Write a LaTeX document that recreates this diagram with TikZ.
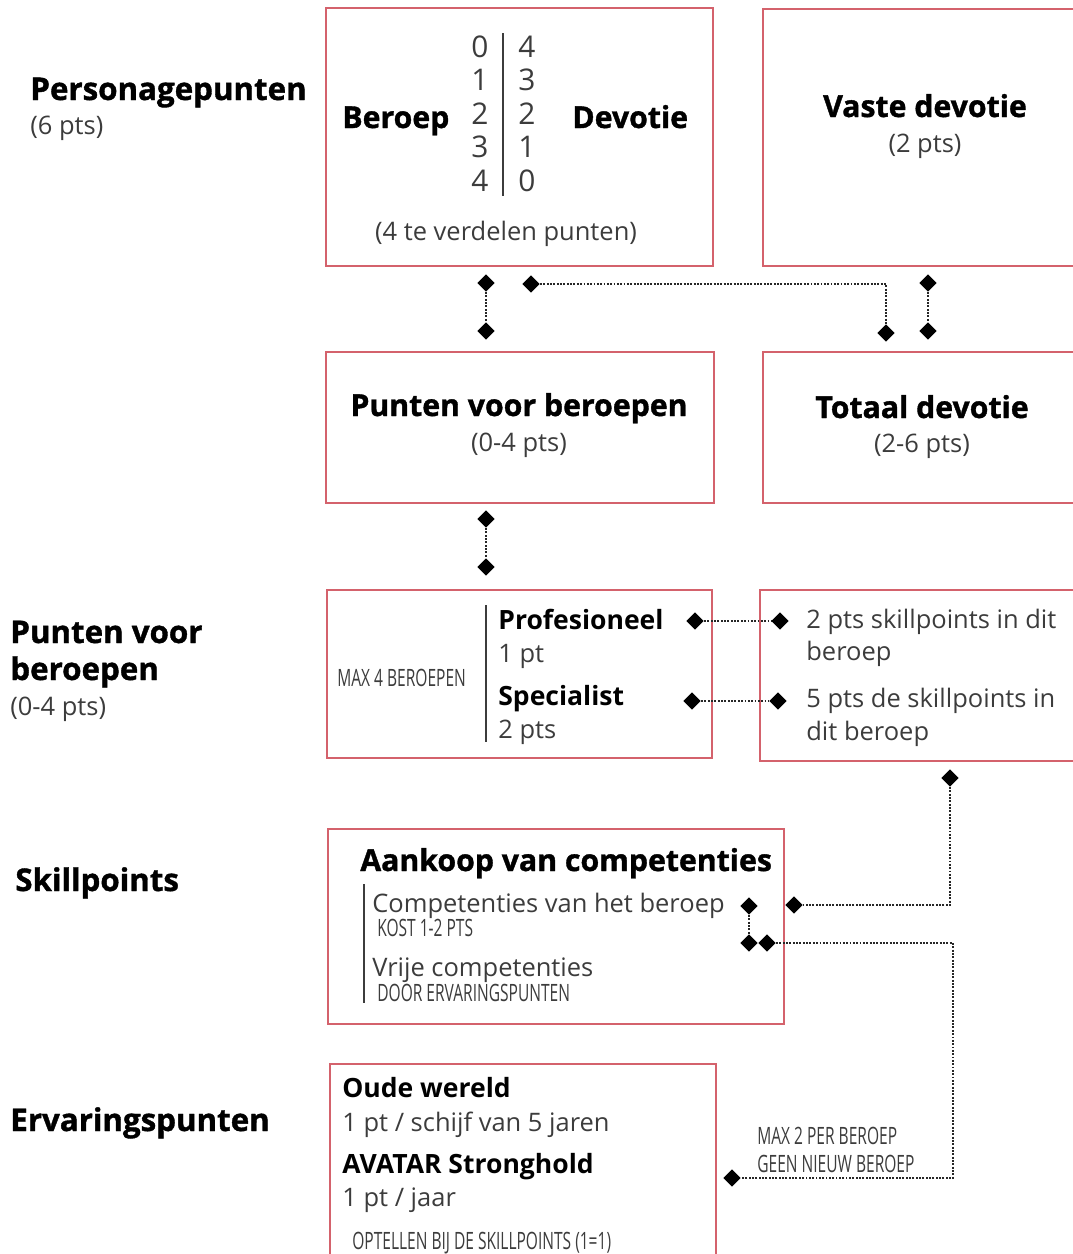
\documentclass[tikz,border=0pt]{standalone}
\usepackage{fontspec}
\setmainfont{Open Sans}
\newfontfamily\condfont[FakeStretch=0.65]{Open Sans}
\newfontfamily\heavyfont[FakeBold=1.2]{Open Sans}
\usetikzlibrary{shapes.geometric}
\definecolor{boxred}{RGB}{212,98,108}
\definecolor{inkgray}{RGB}{60,60,60}
\tikzset{>=stealth}

\begin{document}
\begin{tikzpicture}[x=0.02cm,y=-0.02cm,
    frame/.style={draw=boxred,line width=1pt,anchor=north west,inner sep=0pt},
    side/.style={anchor=base west,inner sep=0pt,font=\heavyfont\fontsize{17.8}{21}\selectfont\bfseries},
    head/.style={anchor=base west,inner sep=0pt,font=\heavyfont\fontsize{17.2}{20}\selectfont\bfseries},
    subhead/.style={anchor=base west,inner sep=0pt,font=\fontsize{15.1}{18}\selectfont\bfseries},
    lite/.style={anchor=base west,inner sep=0pt,text=inkgray,font=\fontsize{14.5}{17}\selectfont},
    digit/.style={anchor=base,inner sep=0pt,text=inkgray,font=\fontsize{17}{20}\selectfont},
    tiny/.style={anchor=base west,inner sep=0pt,text=inkgray,font=\condfont\fontsize{13.6}{16}\selectfont},
    sep/.style={draw=inkgray,line width=1pt},
    dia/.style={diamond,fill=black,inner sep=0pt,minimum width=0.35cm,minimum height=0.35cm},
    dots/.style={draw=black!85,line width=0.8pt,dash pattern=on 1.1pt off 0.8pt}]

  \useasboundingbox (0,0) rectangle (1072,1254);

  % linker kolom
  \node[side] (ptitle) at (30,100) {Personagepunten};
  \node[lite] (psub) at (30,134) {(6 pts)};
  \node[side] (btitle) at (10,643) {Punten voor};
  \node[side] (btitleb) at (10,680) {beroepen};
  \node[lite] (bsub) at (10,715) {(0-4 pts)};
  \node[side] (stitle) at (15,891) {Skillpoints};
  \node[side] (etitle) at (10,1131) {Ervaringspunten};

  % kaders
  \node[frame,minimum width=7.74cm,minimum height=5.16cm] (verdeling) at (325,7) {};
  \node[frame,minimum width=6.76cm,minimum height=5.14cm] (vast) at (762,8) {};
  \node[frame,minimum width=7.76cm,minimum height=3.02cm] (beroepen) at (325,351) {};
  \node[frame,minimum width=6.76cm,minimum height=3.02cm] (totaal) at (762,351) {};
  \node[frame,minimum width=7.70cm,minimum height=3.36cm] (niveaus) at (326,589) {};
  \node[frame,minimum width=6.82cm,minimum height=3.42cm] (skills) at (759,589) {};
  \node[frame,minimum width=9.12cm,minimum height=3.90cm] (aankoop) at (327,828) {};
  \node[frame,minimum width=7.72cm,minimum height=4.34cm] (ervaring) at (329,1063) {};

  % verdeling beroep / devotie
  \node[head] (beroep) at (342,128) {Beroep};
  \node[head] (devotie) at (572,128) {Devotie};
  \foreach \a/\b [count=\i from 0] in {0/4,1/3,2/2,3/1,4/0}{
    \node[digit] (links\i) at (480,57+33.5*\i) {\a};
    \node[digit] (rechts\i) at (527,57+33.5*\i) {\b};
  }
  \draw[sep] (503,33) -- (503,196);
  \node[lite,anchor=base] (verdeel) at (506,240) {(4 te verdelen punten)};

  \node[head,anchor=base] (vastetitel) at (925,117) {Vaste devotie};
  \node[lite,anchor=base] (vastesub) at (925,152) {(2 pts)};
  \node[head,anchor=base] (beroepentitel) at (519,416) {Punten voor beroepen};
  \node[lite,anchor=base] (beroepensub) at (519,451) {(0-4 pts)};
  \node[head,anchor=base] (totaaltitel) at (922,418) {Totaal devotie};
  \node[lite,anchor=base] (totaalsub) at (922,452) {(2-6 pts)};

  % beroepsniveaus
  \node[tiny] (max4) at (337,686) {MAX 4 BEROEPEN};
  \draw[sep] (486,605) -- (486,742);
  \node[subhead] (prof) at (498,629) {Profesioneel};
  \node[lite] (profpt) at (498,662) {1 pt};
  \node[subhead] (spec) at (498,705) {Specialist};
  \node[lite] (specpt) at (498,738) {2 pts};
  \node[lite] (profskill) at (806,628) {2 pts skillpoints in dit};
  \node[lite] (profskillb) at (806,660) {beroep};
  \node[lite] (specskill) at (806,707) {5 pts de skillpoints in};
  \node[lite] (specskillb) at (806,740) {dit beroep};

  % competenties
  \node[head] (aankooptitel) at (360,871) {Aankoop van competenties};
  \draw[sep] (364,884) -- (364,1003);
  \node[lite] (compberoep) at (372,912) {Competenties van het beroep};
  \node[tiny] (kost) at (377,936) {KOST 1-2 PTS};
  \node[lite] (compvrij) at (372,976) {Vrije competenties};
  \node[tiny] (door) at (377,1001) {DOOR ERVARINGSPUNTEN};

  % ervaring
  \node[subhead] (oud) at (342,1097) {Oude wereld};
  \node[lite] (oudpt) at (342,1131) {1 pt / schijf van 5 jaren};
  \node[subhead] (avatar) at (342,1173) {AVATAR Stronghold};
  \node[lite] (avatarpt) at (342,1206) {1 pt / jaar};
  \node[tiny] (optellen) at (352,1249) {OPTELLEN BIJ DE SKILLPOINTS (1=1)};
  \node[tiny] (max2) at (757,1144) {MAX 2 PER BEROEP};
  \node[tiny] (geen) at (757,1172) {GEEN NIEUW BEROEP};

  % verbindingen
  \node[dia] (dA1) at (486,283) {};
  \node[dia] (dA2) at (486,331) {};
  \node[dia] (dB1) at (531,284) {};
  \node[dia] (dB2) at (886,333) {};
  \node[dia] (dC1) at (928,283) {};
  \node[dia] (dC2) at (928,331) {};
  \node[dia] (dD1) at (486,519) {};
  \node[dia] (dD2) at (486,567) {};
  \node[dia] (dE1) at (695,621) {};
  \node[dia] (dE2) at (780,621) {};
  \node[dia] (dF1) at (692,701) {};
  \node[dia] (dF2) at (778,701) {};
  \node[dia] (dG1) at (950,778) {};
  \node[dia] (dG2) at (794,905) {};
  \node[dia] (dH1) at (749,906) {};
  \node[dia] (dH2) at (749,943) {};
  \node[dia] (dH3) at (767,943) {};
  \node[dia] (dH4) at (732,1178) {};
  \coordinate (bocht) at (953,943);

  \draw[dots] (dA1) -- (dA2);
  \draw[dots] (dB1) -| (dB2);
  \draw[dots] (dC1) -- (dC2);
  \draw[dots] (dD1) -- (dD2);
  \draw[dots] (dE1) -- (dE2);
  \draw[dots] (dF1) -- (dF2);
  \draw[dots] (dG1) |- (dG2);
  \draw[dots] (dH1) -- (dH2);
  \draw[dots] (dH3) -- (bocht) |- (dH4);
\end{tikzpicture}
\end{document}
